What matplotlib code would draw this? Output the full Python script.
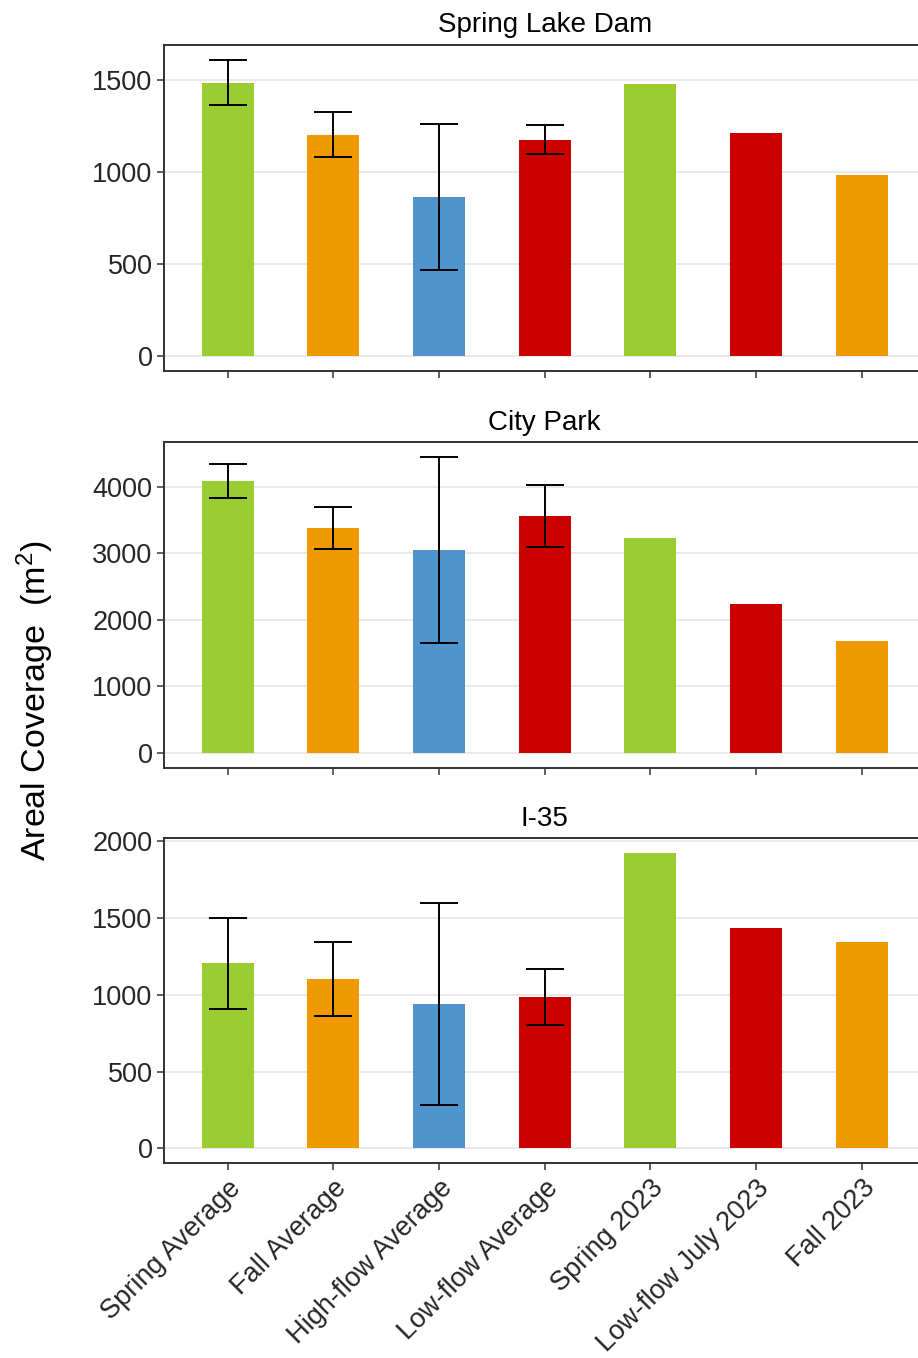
import numpy as np
import matplotlib.pyplot as plt

plt.rcParams['font.family'] = ['Liberation Sans', 'DejaVu Sans']

# Sampling periods along the x axis
periods = ['Spring Average', 'Fall Average', 'High-flow Average', 'Low-flow Average',
           'Spring 2023', 'Low-flow July 2023', 'Fall 2023']
bar_colors = ['#9ACD32', '#EE9A00', '#4F94CD', '#CD0000', '#9ACD32', '#CD0000', '#EE9A00']

# Areal coverage (m^2) per site; sd is NaN where there is a single survey
sites = ['Spring Lake Dam', 'City Park', 'I-35']
spring_lake_mean = [1485, 1202, 862, 1175, 1475, 1211, 984]
spring_lake_sd = [124, 123, 396, 80, np.nan, np.nan, np.nan]
city_park_mean = [4080, 3375, 3045, 3560, 3220, 2234, 1680]
city_park_sd = [259, 310, 1397, 468, np.nan, np.nan, np.nan]
i35_mean = [1205, 1105, 940, 985, 1924, 1437, 1346]
i35_sd = [297, 243, 656, 181, np.nan, np.nan, np.nan]

yticks = [np.arange(0, 1501, 500), np.arange(0, 4001, 1000), np.arange(0, 2001, 500)]

means = [spring_lake_mean, city_park_mean, i35_mean]
sds = [spring_lake_sd, city_park_sd, i35_sd]

fig = plt.figure(figsize=(9.18, 13.58), dpi=100)

# panel boxes in figure fractions (left, bottom, width, height)
boxes = [(0.179, 0.7268, 0.8287, 0.2401),
         (0.179, 0.4347, 0.8287, 0.2396),
         (0.179, 0.1434, 0.8287, 0.2393)]

x = np.arange(len(periods))
for i, site in enumerate(sites):
    ax = fig.add_axes(boxes[i])
    m = np.array(means[i], dtype=float)
    s = np.array(sds[i], dtype=float)
    ax.bar(x, m, width=0.49, color=bar_colors, zorder=2)
    ax.errorbar(x, m, yerr=s, fmt='none', ecolor='black', elinewidth=1.4,
                capsize=13.5, capthick=1.4, zorder=3)
    top = np.nanmax(np.concatenate([m, m + np.nan_to_num(s)]))
    pad = 0.05 * top
    ax.set_ylim(-pad, top + pad)
    ax.set_xlim(-0.6, len(periods) - 0.4)
    ax.set_yticks(yticks[i])
    ax.yaxis.grid(True, color='#E5E5E5', linewidth=1.2, zorder=0)
    ax.set_axisbelow(True)
    for sp in ax.spines.values():
        sp.set_color('#333333')
        sp.set_linewidth(1.4)
    ax.tick_params(axis='both', length=5, width=1.1, color='#333333',
                   labelsize=19.5, labelcolor='#262626')
    ax.set_xticks(x)
    if i < 2:
        ax.set_xticklabels([])
    else:
        ax.set_xticklabels(periods, rotation=45, ha='right', va='top',
                           rotation_mode='anchor', fontsize=19.5)
    ax.set_title(site, fontsize=20, pad=9)

fig.text(0.038, 0.484, 'Areal Coverage  (m$\\mathregular{^2}$)', rotation=90,
         ha='center', va='center', fontsize=24.5)

fig.savefig('out.png', dpi=100)
